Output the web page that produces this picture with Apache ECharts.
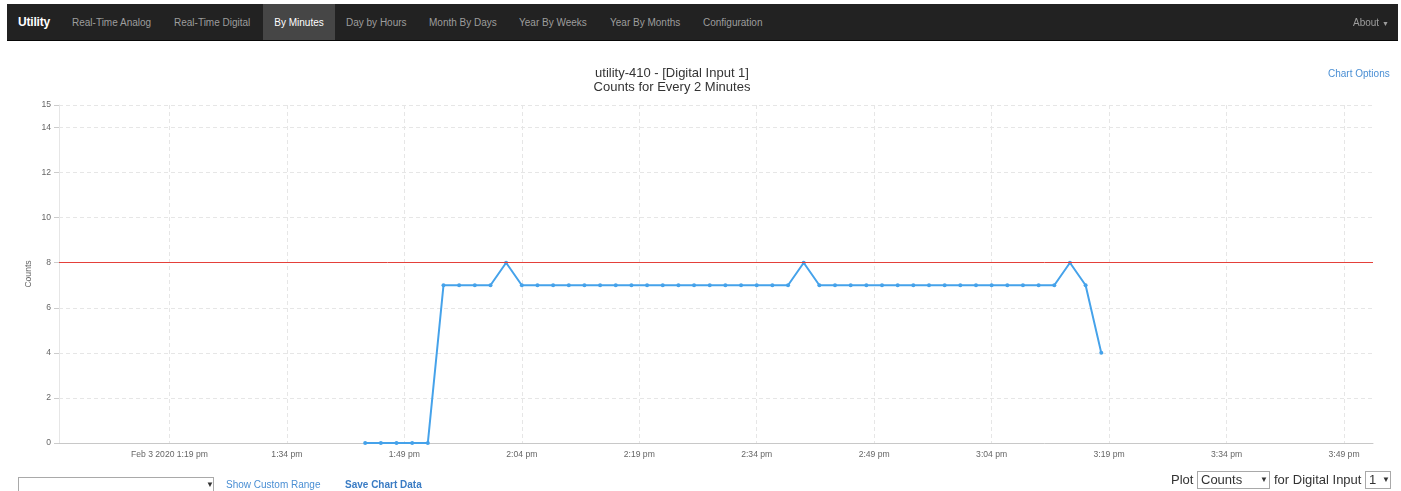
<!DOCTYPE html>
<html>
<head>
<meta charset="utf-8">
<script src="https://cdn.jsdelivr.net/npm/echarts@6/dist/echarts.min.js"></script>
<style>
  html, body { margin:0; padding:0; background:#fff; width:1401px; height:491px; overflow:hidden; font-family:"Liberation Sans", Arial, sans-serif; }
  #chart { position:absolute; left:0; top:0; width:1401px; height:491px; }
  .nav { position:absolute; left:7px; top:4px; width:1391px; height:36px; background:#222; border-bottom:1px solid #080808; }
  .nav span { position:absolute; top:0; line-height:37px; font-size:10px; color:#9d9d9d; white-space:nowrap; }
  .nav .brand { color:#fff; font-size:12px; font-weight:bold; letter-spacing:-0.2px; }
  .nav .active { background:#464646; color:#fff; }
  .ov { position:absolute; white-space:nowrap; }
  .link { color:#4a8fd4; font-size:10px; }
  .sel { position:absolute; border:1px solid #a9a9a9; background:#fff; box-sizing:border-box; font-size:13px; color:#333; }
  .sel .arr { position:absolute; font-size:8px; color:#333; }
</style>
</head>
<body>
<div id="chart"></div>
<div class="nav">
  <span class="brand" style="left:11px;">Utility</span>
  <span style="left:65px;">Real-Time Analog</span>
  <span style="left:167px;">Real-Time Digital</span>
  <span class="active" style="left:256px;width:72px;text-align:center;height:36px;">By Minutes</span>
  <span style="left:339px;">Day by Hours</span>
  <span style="left:422px;">Month By Days</span>
  <span style="left:512px;">Year By Weeks</span>
  <span style="left:603px;">Year By Months</span>
  <span style="left:696px;">Configuration</span>
  <span style="left:1346px;">About <span style="position:static;font-size:7px;">&#9660;</span></span>
</div>
<div class="ov link" style="left:1328px;top:68px;">Chart Options</div>
<div class="sel" style="left:18px;top:477px;width:196px;height:20px;"><span class="arr" style="left:187px;top:2px;">&#9660;</span></div>
<div class="ov link" style="left:226px;top:479px;">Show Custom Range</div>
<div class="ov link" style="left:345px;top:479px;font-weight:bold;color:#3a7cc4;">Save Chart Data</div>
<div class="ov" style="left:1171px;top:472px;font-size:13px;color:#333;">Plot</div>
<div class="sel" style="left:1197px;top:471px;width:73px;height:18px;"><span style="position:absolute;left:3px;top:0px;">Counts</span><span class="arr" style="left:62px;top:3px;">&#9660;</span></div>
<div class="ov" style="left:1274px;top:472px;font-size:13px;color:#333;">for Digital Input</div>
<div class="sel" style="left:1365px;top:471px;width:26px;height:18px;"><span style="position:absolute;left:3px;top:0px;">1</span><span class="arr" style="left:16px;top:3px;">&#9660;</span></div>
<script>
// ---- data ----
const times = ['13:44','13:46','13:48','13:50','13:52','13:54','13:56','13:58','14:00','14:02',
  '14:04','14:06','14:08','14:10','14:12','14:14','14:16','14:18','14:20','14:22',
  '14:24','14:26','14:28','14:30','14:32','14:34','14:36','14:38','14:40','14:42',
  '14:44','14:46','14:48','14:50','14:52','14:54','14:56','14:58','15:00','15:02',
  '15:04','15:06','15:08','15:10','15:12','15:14','15:16','15:18'];
const counts = [0,0,0,0,0,7,7,7,7,8,
  7,7,7,7,7,7,7,7,7,7,
  7,7,7,7,7,7,7,7,8,7,
  7,7,7,7,7,7,7,7,7,7,
  7,7,7,7,7,8,7,4];
const tickTimes = ['13:19','13:34','13:49','14:04','14:19','14:34','14:49','15:04','15:19','15:34','15:49'];
const tickLabels = ['Feb 3 2020 1:19 pm','1:34 pm','1:49 pm','2:04 pm','2:19 pm','2:34 pm','2:49 pm','3:04 pm','3:19 pm','3:34 pm','3:49 pm'];
const xRange = ['13:04.9','15:52.7'];
const limitValue = 8;
const chartTitle = 'utility-410 - [Digital Input 1]';
const chartSubtitle = 'Counts for Every 2 Minutes';
const yName = 'Counts';

function toMin(s) { const p = s.split(':'); return Number(p[0]) * 60 + Number(p[1]); }
const tickMins = tickTimes.map(toMin);
const seriesData = times.map((t, i) => [toMin(t), counts[i]]);

const chart = echarts.init(document.getElementById('chart'), null, { renderer: 'canvas' });
const FONT = '"Liberation Sans", Arial, sans-serif';
chart.setOption({
  animation: false,
  backgroundColor: 'transparent',
  title: {
    text: chartTitle + '\n' + chartSubtitle,
    left: 667, top: 61, textAlign: 'center',
    textStyle: { fontFamily: FONT, fontSize: 13, fontWeight: 'normal', color: '#333', lineHeight: 14 }
  },
  grid: { left: 59, right: 28, top: 105, bottom: 48, containLabel: false },
  xAxis: {
    type: 'value',
    min: toMin(xRange[0]), max: toMin(xRange[1]),
    axisLine: { show: true, lineStyle: { color: '#c8c8c8', width: 1 } },
    axisTick: { show: false, customValues: tickMins },
    axisLabel: {
      customValues: tickMins,
      margin: 7,
      fontFamily: FONT, fontSize: 8.6, color: '#666',
      formatter: function (v) { const i = tickMins.indexOf(Math.round(v)); return i >= 0 ? tickLabels[i] : ''; }
    },
    splitLine: { show: true, lineStyle: { color: '#e6e6e6', type: [4, 3], width: 1 } }
  },
  yAxis: {
    type: 'value', min: 0, max: 15, interval: 2,
    name: yName, nameLocation: 'middle', nameGap: 26, nameMoveOverlap: false,
    nameTextStyle: { fontFamily: FONT, fontSize: 8.6, color: '#666' },
    axisLine: { show: true, lineStyle: { color: '#e6e6e6', width: 1 } },
    axisTick: { show: true, length: 5, lineStyle: { color: '#ccc' } },
    axisLabel: { margin: 8, fontFamily: FONT, fontSize: 8.6, color: '#666' },
    splitLine: { show: true, lineStyle: { color: '#e6e6e6', type: [4, 3], width: 1 } }
  },
  series: [{
    type: 'line',
    data: seriesData,
    color: '#45a2ea',
    lineStyle: { width: 2, color: '#45a2ea' },
    symbol: 'circle', symbolSize: 4, showSymbol: true,
    itemStyle: { color: '#45a2ea' },
    z: 3,
    markLine: {
      silent: true, symbol: 'none', animation: false,
      label: { show: false },
      lineStyle: { color: '#e4403a', width: 1, type: 'solid' },
      data: [{ yAxis: limitValue }]
    }
  }]
});
</script>
</body>
</html>
